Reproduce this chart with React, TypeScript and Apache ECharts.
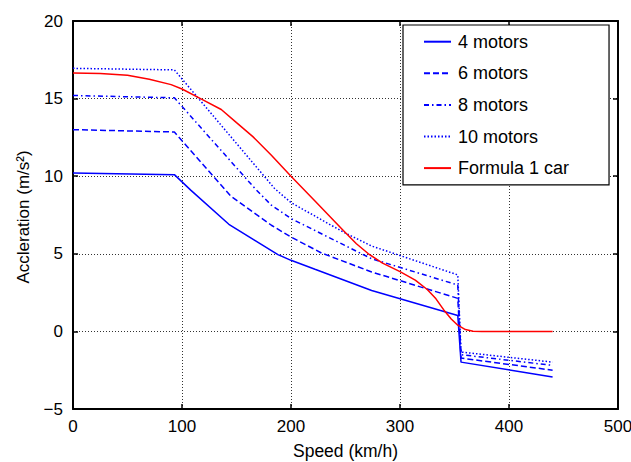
import React, { useEffect, useRef } from "react";
import * as echarts from "echarts";

const seriesNames = ["4 motors", "6 motors", "8 motors", "10 motors", "Formula 1 car"];

const motors4: [number, number][] = [
  [0, 10.2], [93, 10.1], [108, 9.1], [143, 6.9], [188, 4.95], [200, 4.58], [222, 4.0],
  [274, 2.64], [353, 1.03], [356, -1.98], [440, -2.94],
];
const motors6: [number, number][] = [
  [0, 13.0], [93, 12.85], [145, 8.7], [182, 6.84], [200, 6.08], [228, 5.05],
  [274, 3.83], [353, 2.13], [356, -1.72], [440, -2.5],
];
const motors8: [number, number][] = [
  [0, 15.2], [93, 15.05], [167, 9.2], [182, 8.13], [200, 7.27], [274, 4.68],
  [353, 2.99], [356, -1.5], [440, -2.19],
];
const motors10: [number, number][] = [
  [0, 16.95], [93, 16.85], [185, 9.2], [200, 8.3], [248, 6.4], [274, 5.5],
  [353, 3.64], [356, -1.33], [440, -1.98],
];
const formula1: [number, number][] = [
  [0, 16.65], [25, 16.62], [50, 16.5], [70, 16.25], [90, 15.9], [100, 15.62], [117, 15.0],
  [136, 14.3], [150, 13.45], [165, 12.55], [182, 11.35], [200, 10.0], [222, 8.4], [248, 6.5],
  [260, 5.65], [271, 5.0], [284, 4.4], [300, 3.85], [314, 3.3], [325, 2.7], [333, 2.1],
  [340, 1.4], [347, 0.8], [353, 0.4], [360, 0.12], [367, 0.01], [375, 0], [440, 0],
];

const xTicks = [0, 100, 200, 300, 400, 500];
const yTicks = [-5, 0, 5, 10, 15, 20];

const FONT = "'Liberation Sans', Arial, Helvetica, sans-serif";
const BLUE = "#0000ff";
const RED = "#ff0000";

export default function App() {
  const ref = useRef<HTMLDivElement>(null);
  useEffect(() => {
    document.body.style.margin = "0";
    if (!ref.current) return;
    const chart = echarts.init(ref.current, undefined, { renderer: "svg" });
    const fmtY = (v: number) => (v < 0 ? "\u2212" + Math.abs(v) : String(v));
    const gridLine = { show: true, lineStyle: { color: "#333", width: 1, type: [1, 2] as number[] } };
    const axisLine = { show: true, onZero: false, lineStyle: { color: "#000", width: 2 } };
    const tick = { show: true, inside: true, length: 5, lineStyle: { color: "#000", width: 1.5 } };
    const mkLine = (name: string, data: [number, number][], color: string, type: any, z: number) => ({
      name,
      type: "line",
      data,
      showSymbol: false,
      symbol: "none",
      z,
      lineStyle: { color, width: 1.5, type },
      itemStyle: { color },
    });
    chart.setOption({
      animation: false,
      backgroundColor: "#fff",
      grid: { left: 73, right: 13, top: 21, bottom: 53, containLabel: false, outerBoundsMode: "none" },
      legend: {
        orient: "vertical",
        left: 403,
        top: 25,
        data: seriesNames,
        itemWidth: 27,
        itemHeight: 18,
        itemGap: 13.6,
        padding: [7.7, 40, 7.7, 20],
        borderColor: "#000",
        borderWidth: 1.2,
        backgroundColor: "#fff",
        textStyle: { fontFamily: FONT, fontSize: 18, color: "#000", padding: [0, 0, 0, 2] },
        itemStyle: { opacity: 0 },
      },
      xAxis: [
        {
          type: "value",
          min: xTicks[0],
          max: xTicks[xTicks.length - 1],
          interval: 100,
          name: "Speed (km/h)",
          nameLocation: "middle",
          nameGap: 33,
          nameTextStyle: { fontFamily: FONT, fontSize: 17.5, color: "#000" },
          axisLine,
          axisTick: tick,
          axisLabel: { fontFamily: FONT, fontSize: 17, color: "#000", margin: 9 },
          splitLine: gridLine,
        },
        {
          type: "value",
          position: "top",
          min: xTicks[0],
          max: xTicks[xTicks.length - 1],
          interval: 100,
          axisLine,
          axisTick: tick,
          axisLabel: { show: false },
          splitLine: { show: false },
        },
      ],
      yAxis: [
        {
          type: "value",
          min: yTicks[0],
          max: yTicks[yTicks.length - 1],
          interval: 5,
          axisLine,
          axisTick: tick,
          axisLabel: { fontFamily: FONT, fontSize: 17, color: "#000", margin: 10, formatter: fmtY },
          splitLine: gridLine,
        },
        {
          type: "value",
          position: "right",
          min: yTicks[0],
          max: yTicks[yTicks.length - 1],
          interval: 5,
          axisLine,
          axisTick: tick,
          axisLabel: { show: false },
          splitLine: { show: false },
        },
      ],
      graphic: [
        {
          type: "text",
          x: 23,
          y: 217,
          rotation: Math.PI / 2,
          style: {
            text: "Accleration (m/s\u00b2)",
            fontFamily: FONT,
            fontSize: 17,
            fill: "#000",
            align: "center",
            verticalAlign: "middle",
          },
        },
      ],
      series: [
        mkLine(seriesNames[0], motors4, BLUE, "solid", 2),
        mkLine(seriesNames[1], motors6, BLUE, [6, 3], 2),
        mkLine(seriesNames[2], motors8, BLUE, [5, 3, 1.5, 3], 2),
        mkLine(seriesNames[3], motors10, BLUE, [1.5, 2], 2),
        mkLine(seriesNames[4], formula1, RED, "solid", 3),
      ],
    });
    return () => chart.dispose();
  }, []);
  return <div ref={ref} style={{ width: 631, height: 462 }} />;
}
